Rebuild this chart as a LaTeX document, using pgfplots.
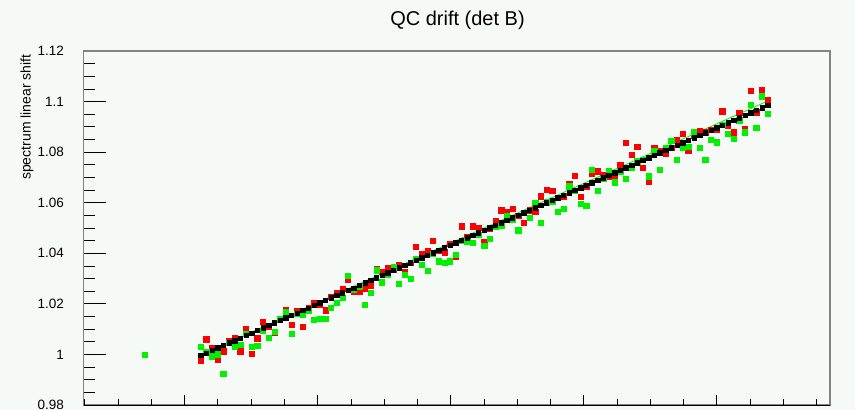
\documentclass[border=0pt]{standalone}
\usepackage{pgfplots}
\usepackage{pgfplotstable}
\pgfplotsset{compat=1.18}
\usepackage{fontspec}
\setmainfont{Liberation Sans}
\definecolor{bgc}{RGB}{246,250,247}
\definecolor{rootred}{RGB}{255,0,0}
\definecolor{rootgreen}{RGB}{0,240,0}
\definecolor{axgray}{RGB}{130,130,130}
\pgfplotstableread{
i r g k
0 0.9977 1.0030 0.9996
1 1.0060 1.0009 1.0006
2 1.0026 0.9993 1.0016
3 0.9980 1.0001 1.0026
4 1.0013 0.9924 1.0036
5 1.0053 1.0046 1.0046
6 1.0066 1.0030 1.0055
7 1.0013 1.0037 1.0065
8 1.0103 1.0082 1.0075
9 1.0004 1.0030 1.0085
10 1.0064 1.0033 1.0095
11 1.0128 1.0094 1.0105
12 1.0112 1.0066 1.0115
13 1.0086 1.0090 1.0125
14 1.0138 1.0142 1.0135
15 1.0176 1.0167 1.0145
16 1.0119 1.0083 1.0154
17 1.0174 1.0160 1.0164
18 1.0109 1.0158 1.0174
19 1.0185 1.0174 1.0184
20 1.0204 1.0138 1.0194
21 1.0198 1.0141 1.0204
22 1.0175 1.0141 1.0214
23 1.0228 1.0184 1.0224
24 1.0243 1.0204 1.0234
25 1.0260 1.0224 1.0244
26 1.0294 1.0310 1.0253
27 1.0250 1.0257 1.0263
28 1.0250 1.0270 1.0273
29 1.0260 1.0198 1.0283
30 1.0273 1.0244 1.0293
31 1.0340 1.0333 1.0303
32 1.0327 1.0286 1.0313
33 1.0343 1.0314 1.0323
34 1.0336 1.0345 1.0333
35 1.0356 1.0279 1.0343
36 1.0327 1.0314 1.0352
37 1.0362 1.0300 1.0362
38 1.0426 1.0380 1.0372
39 1.0398 1.0356 1.0382
40 1.0411 1.0332 1.0392
41 1.0451 1.0398 1.0402
42 1.0411 1.0369 1.0412
43 1.0404 1.0362 1.0422
44 1.0437 1.0369 1.0432
45 1.0385 1.0395 1.0442
46 1.0507 1.0451 1.0451
47 1.0465 1.0445 1.0461
48 1.0507 1.0441 1.0471
49 1.0501 1.0472 1.0481
50 1.0445 1.0431 1.0491
51 1.0497 1.0457 1.0501
52 1.0527 1.0505 1.0511
53 1.0570 1.0510 1.0521
54 1.0563 1.0549 1.0531
55 1.0577 1.0534 1.0541
56 1.0549 1.0491 1.0550
57 1.0520 1.0560 1.0560
58 1.0570 1.0540 1.0570
59 1.0563 1.0600 1.0580
60 1.0626 1.0520 1.0590
61 1.0652 1.0602 1.0600
62 1.0648 1.0606 1.0610
63 1.0619 1.0563 1.0620
64 1.0626 1.0577 1.0630
65 1.0676 1.0665 1.0640
66 1.0708 1.0646 1.0649
67 1.0623 1.0597 1.0659
68 1.0665 1.0589 1.0669
69 1.0714 1.0729 1.0679
70 1.0725 1.0648 1.0689
71 1.0711 1.0696 1.0699
72 1.0705 1.0725 1.0709
73 1.0708 1.0681 1.0719
74 1.0751 1.0725 1.0729
75 1.0837 1.0696 1.0739
76 1.0790 1.0738 1.0748
77 1.0823 1.0764 1.0758
78 1.0738 1.0771 1.0768
79 1.0685 1.0705 1.0778
80 1.0819 1.0804 1.0788
81 1.0804 1.0729 1.0798
82 1.0794 1.0819 1.0808
83 1.0819 1.0846 1.0818
84 1.0850 1.0771 1.0828
85 1.0872 1.0817 1.0838
86 1.0808 1.0823 1.0847
87 1.0866 1.0879 1.0857
88 1.0883 1.0817 1.0867
89 1.0879 1.0771 1.0877
90 1.0889 1.0850 1.0887
91 1.0890 1.0839 1.0897
92 1.0962 1.0909 1.0907
93 1.0905 1.0874 1.0917
94 1.0879 1.0853 1.0927
95 1.0955 1.0926 1.0937
96 1.0892 1.0879 1.0946
97 1.1043 1.0988 1.0956
98 1.0958 1.0896 1.0966
99 1.1047 1.1021 1.0976
100 1.1008 1.0951 1.0986
}\datatable
\begin{document}
\begin{tikzpicture}[x=1pt,y=1pt]
\fill[bgc] (0,0) rectangle (855,410);
\path[use as bounding box] (0,0) rectangle (855,410);
\begin{axis}[
  at={(83.5pt,5pt)}, anchor=south west, scale only axis,
  width=746.5pt, height=354pt,
  xmin=-20.65, xmax=111, ymin=0.98, ymax=1.12,
  tick align=inside, tick pos=left,
  xtick=\empty,
  ytick={0.98,1,1.02,1.04,1.06,1.08,1.1,1.12},
  yticklabels={0.98,1,1.02,1.04,1.06,1.08,1.1,1.12},
  minor ytick={0.985,0.99,0.995,1.005,1.01,1.015,1.025,1.03,1.035,1.045,1.05,1.055,1.065,1.07,1.075,1.085,1.09,1.095,1.105,1.11,1.115},
  major tick length=23pt, minor tick length=12pt,
  tick style={black, line width=0.8pt},
  x axis line style={black, line width=0.9pt},
  y axis line style={axgray, line width=1.8pt},
  yticklabel style={font=\fontsize{13.5}{16}\selectfont, anchor=east, xshift=-16pt},
  clip=false,
]
\addplot[only marks, mark=square*, mark size=2.6pt, rootred, mark options={draw=none}] table[x=i,y=r]{\datatable};
\addplot[only marks, mark=square*, mark size=2.6pt, rootgreen, mark options={draw=none}] table[x=i,y=g]{\datatable};
\addplot[only marks, mark=square*, mark size=2.6pt, rootgreen, mark options={draw=none}] coordinates {(-9.8,1.0)};
\addplot[only marks, mark=square*, mark size=2.2pt, black, mark options={draw=none}] table[x=i,y=k]{\datatable};
\addplot[rootgreen, line width=0.8pt] coordinates {(0,0.9998) (100,1.1002)};
\end{axis}
\begin{axis}[
  at={(83.5pt,5pt)}, anchor=south west, scale only axis,
  width=746.5pt, height=354pt,
  xmin=-20.65, xmax=111, ymin=0.98, ymax=1.12,
  axis x line*=bottom, axis y line=none,
  tick align=inside,
  xtick={-2.82,20.65,44.12,67.58,91.05},
  xticklabels={},
  minor xtick={-20.42,-14.55,-8.69,3.05,8.92,14.78,26.52,32.38,38.25,49.99,55.85,61.72,73.45,79.32,85.18,96.92,102.79,108.65},
  major tick length=10pt, minor tick length=6pt,
  tick style={black, line width=0.8pt},
  x axis line style={black, line width=0.9pt},
]
\end{axis}
\node[font=\fontsize{20}{24}\selectfont, anchor=base] at (457.5,384.5) {QC drift (det B)};
\node[rotate=90, anchor=east, font=\fontsize{14}{16}\selectfont] at (27,359) {spectrum linear shift};
\end{tikzpicture}
\end{document}
